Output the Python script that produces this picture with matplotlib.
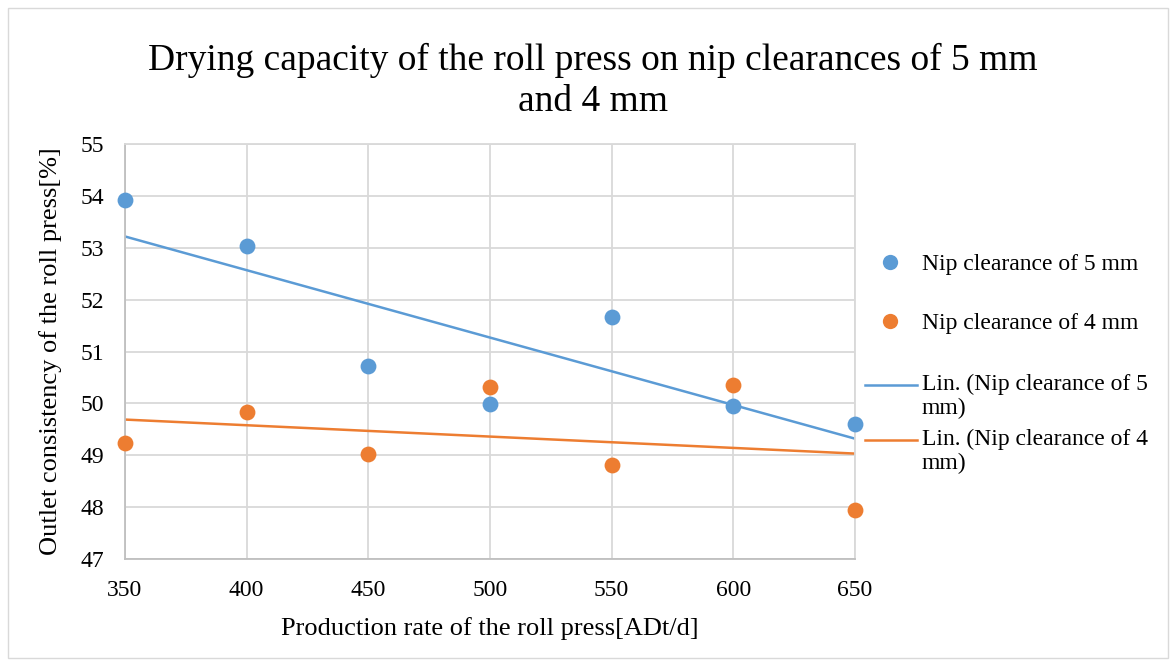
import numpy as np
import matplotlib.pyplot as plt
from matplotlib.lines import Line2D
from matplotlib.patches import Rectangle

plt.rcParams['font.family'] = ['Liberation Serif', 'DejaVu Serif']

rate = [350, 400, 450, 500, 550, 600, 650]
nip5 = [53.92, 53.04, 50.72, 49.98, 51.67, 49.95, 49.60]
nip4 = [49.24, 49.83, 49.03, 50.31, 48.81, 50.36, 47.94]

names = ['Nip clearance of 5 mm', 'Nip clearance of 4 mm']
blue = '#5b9bd5'
orange = '#ed7d31'

W, H = 1176, 666
fig = plt.figure(figsize=(W / 100, H / 100), dpi=100)
ax = fig.add_axes([125 / W, 1 - 559 / H, 730 / W, 415 / H])

# light outer frame of the chart area
fig.add_artist(Rectangle((8 / W, 8 / H), 1160 / W, 650 / H, transform=fig.transFigure,
                         facecolor='none', edgecolor='#d9d9d9', lw=1))

x = np.array(rate)
for y, c in [(nip5, blue), (nip4, orange)]:
    ax.scatter(rate, y, s=130, color=c, zorder=3, clip_on=False, linewidths=0)
    k, b = np.polyfit(x, y, 1)
    ax.plot(x, k * x + b, color=c, lw=1.8, zorder=2)

ax.set_xlim(350, 650)
ax.set_ylim(47, 55)
ax.set_xticks(rate)
ax.set_yticks(range(47, 56))
ax.grid(True, color='#d9d9d9', lw=1.3)
ax.set_axisbelow(True)
for s in ax.spines.values():
    s.set_color('#d9d9d9')
    s.set_linewidth(1.3)
ax.spines['left'].set_color('#bfbfbf')
ax.spines['bottom'].set_color('#bfbfbf')
ax.tick_params(length=0, labelsize=17, pad=15)

ax.set_xlabel('Production rate of the roll press[ADt/d]', fontsize=19, labelpad=12)
ax.set_ylabel('Outlet consistency of the roll press[%]', fontsize=19, labelpad=13)

fig.text(593 / W, 1 - 81 / H,
         'Drying capacity of the roll press on nip clearances of 5 mm\nand 4 mm',
         fontsize=27, ha='center', va='center', linespacing=1.22)

# Excel-style legend on the right
def fy(py):
    return 1 - py / H

for c, name, py in [(blue, names[0], 262), (orange, names[1], 321)]:
    fig.add_artist(Line2D([890 / W], [fy(py)], marker='o', markersize=11, color=c,
                          markeredgewidth=0, transform=fig.transFigure))
    fig.text(922 / W, fy(py), name, fontsize=17, va='center_baseline')

for c, name, py in [(blue, names[0], 385), (orange, names[1], 440)]:
    fig.add_artist(Line2D([865 / W, 917 / W], [fy(py), fy(py)], color=c, lw=1.8,
                          transform=fig.transFigure))
    fig.text(922 / W, fy(py - 11), 'Lin. (' + name[:-3] + '\nmm)', fontsize=17,
             va='top', linespacing=1.17)

fig.savefig('out.png', dpi=100)
